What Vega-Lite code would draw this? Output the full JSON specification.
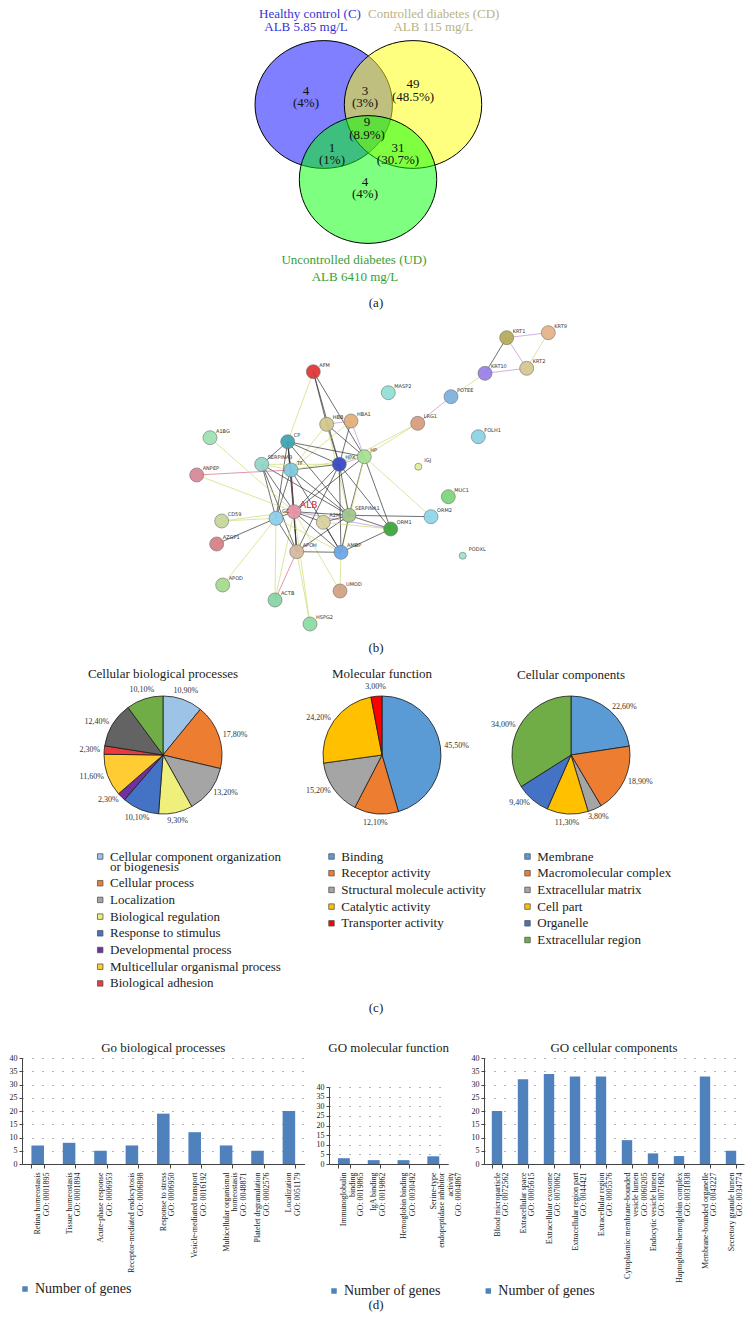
{
  "$schema": "https://vega.github.io/schema/vega-lite/v6.json",
  "padding": 0,
  "autosize": {"type": "pad"},
  "background": "white",
  "bounds": "flush",
  "spacing": 0,
  "config": {
    "view": {"stroke": null},
    "font": "Liberation Serif",
    "locale": {"number": {"decimal": ",", "thousands": ".", "grouping": [3], "currency": ["", " €"]}},
    "title": {"font": "Liberation Serif", "fontSize": 13, "fontWeight": "normal", "color": "#222"},
    "legend": {"padding": 0, "labelFont": "Liberation Serif", "labelColor": "#222"},
    "axis": {"labelFont": "Liberation Serif", "labelColor": "#222", "domainColor": "#444", "tickColor": "#444"},
    "style": {"guide-label": {"lineHeight": 10}}
  },
  "resolve": {
    "scale": {"x": "independent", "y": "independent", "color": "independent", "size": "independent", "theta": "independent"},
    "legend": {"color": "independent", "size": "independent"}
  },
  "datasets": {
    "vennSets": [
      {"set": "C", "u": -0.652, "v": 0},
      {"set": "CD", "u": 0.648, "v": 0},
      {"set": "UD", "u": -0.007, "v": -1.092}
    ],
    "vennTitles": [
      {"set": "C", "u": -0.852, "v": 1.317, "t": "Healthy control (C)"},
      {"set": "C", "u": -0.91, "v": 1.128, "t": "ALB 5.85 mg/L"},
      {"set": "CD", "u": 0.949, "v": 1.317, "t": "Controlled diabetes (CD)"},
      {"set": "CD", "u": 0.943, "v": 1.128, "t": "ALB 115 mg/L"},
      {"set": "UD", "u": -0.211, "v": -2.263, "t": "Uncontrolled diabetes (UD)"},
      {"set": "UD", "u": -0.197, "v": -2.511, "t": "ALB 6410 mg/L"}
    ],
    "vennCounts": [
      {"u": -0.91, "v": 0.197, "t": "4\n(4%)"},
      {"u": -0.051, "v": 0.197, "t": "3\n(3%)"},
      {"u": 0.648, "v": 0.298, "t": "49\n(48.5%)"},
      {"u": -0.022, "v": -0.262, "t": "9\n(8.9%)"},
      {"u": -0.531, "v": -0.633, "t": "1\n(1%)"},
      {"u": 0.429, "v": -0.633, "t": "31\n(30.7%)"},
      {"u": -0.051, "v": -1.128, "t": "4\n(4%)"}
    ],
    "nodes": [
      {"id": "KRT1", "x": 506.7, "y": 337.7},
      {"id": "KRT9", "x": 548.3, "y": 332.7},
      {"id": "KRT10", "x": 485.0, "y": 373.3},
      {"id": "KRT2", "x": 526.7, "y": 368.3},
      {"id": "POTEE", "x": 451.0, "y": 396.7},
      {"id": "MASP2", "x": 388.3, "y": 392.7},
      {"id": "AFM", "x": 313.3, "y": 371.7},
      {"id": "HBB", "x": 326.7, "y": 424.3},
      {"id": "HBA1", "x": 351.0, "y": 421.0},
      {"id": "LRG1", "x": 417.7, "y": 423.3},
      {"id": "FOLH1", "x": 478.3, "y": 436.7},
      {"id": "A1BG", "x": 210.0, "y": 437.7},
      {"id": "ANPEP", "x": 196.7, "y": 475.0},
      {"id": "CP", "x": 287.7, "y": 441.7},
      {"id": "SERPINA3", "x": 261.7, "y": 464.3},
      {"id": "TF", "x": 291.0, "y": 470.0},
      {"id": "HPX", "x": 339.3, "y": 464.3},
      {"id": "HP", "x": 364.3, "y": 456.7},
      {"id": "IGJ", "x": 418.3, "y": 466.7},
      {"id": "MUC1", "x": 448.3, "y": 496.7},
      {"id": "ORM2", "x": 431.0, "y": 516.7},
      {"id": "ORM1", "x": 390.7, "y": 529.0},
      {"id": "SERPINA1", "x": 349.0, "y": 515.3},
      {"id": "A2M", "x": 323.3, "y": 522.3},
      {"id": "ALB", "x": 294.0, "y": 511.7},
      {"id": "GC", "x": 276.0, "y": 518.3},
      {"id": "CD59", "x": 221.7, "y": 521.0},
      {"id": "AZGP1", "x": 216.7, "y": 544.0},
      {"id": "APOH", "x": 296.7, "y": 551.7},
      {"id": "AMBP", "x": 341.0, "y": 552.3},
      {"id": "APOD", "x": 222.7, "y": 585.0},
      {"id": "ACTB", "x": 275.0, "y": 600.0},
      {"id": "UMOD", "x": 340.0, "y": 591.0},
      {"id": "HSPG2", "x": 310.0, "y": 624.0},
      {"id": "PODXL", "x": 462.7, "y": 555.7}
    ],
    "edges": [
      {"s": "KRT1", "t": "KRT9", "k": "exp"},
      {"s": "KRT1", "t": "KRT10", "k": "black"},
      {"s": "KRT1", "t": "KRT2", "k": "exp"},
      {"s": "KRT10", "t": "KRT2", "k": "exp"},
      {"s": "KRT9", "t": "KRT2", "k": "text"},
      {"s": "KRT10", "t": "POTEE", "k": "text"},
      {"s": "POTEE", "t": "LRG1", "k": "exp"},
      {"s": "LRG1", "t": "HP", "k": "text"},
      {"s": "LRG1", "t": "HPX", "k": "text"},
      {"s": "AFM", "t": "CP", "k": "text"},
      {"s": "AFM", "t": "HBB", "k": "black"},
      {"s": "AFM", "t": "HP", "k": "black"},
      {"s": "AFM", "t": "HPX", "k": "black"},
      {"s": "HBB", "t": "HBA1", "k": "exp"},
      {"s": "HBB", "t": "HP", "k": "black"},
      {"s": "HBA1", "t": "HP", "k": "exp"},
      {"s": "HBB", "t": "HPX", "k": "black"},
      {"s": "HBA1", "t": "HPX", "k": "black"},
      {"s": "HBB", "t": "TF", "k": "text"},
      {"s": "HBA1", "t": "TF", "k": "text"},
      {"s": "HBB", "t": "SERPINA1", "k": "text"},
      {"s": "CP", "t": "TF", "k": "black"},
      {"s": "CP", "t": "HPX", "k": "black"},
      {"s": "CP", "t": "HP", "k": "black"},
      {"s": "CP", "t": "SERPINA3", "k": "black"},
      {"s": "CP", "t": "ALB", "k": "black"},
      {"s": "CP", "t": "SERPINA1", "k": "black"},
      {"s": "CP", "t": "GC", "k": "black"},
      {"s": "CP", "t": "APOH", "k": "black"},
      {"s": "SERPINA3", "t": "TF", "k": "text"},
      {"s": "SERPINA3", "t": "ALB", "k": "black"},
      {"s": "SERPINA3", "t": "GC", "k": "black"},
      {"s": "SERPINA3", "t": "APOH", "k": "black"},
      {"s": "SERPINA3", "t": "HPX", "k": "text"},
      {"s": "SERPINA3", "t": "SERPINA1", "k": "black"},
      {"s": "ANPEP", "t": "TF", "k": "db"},
      {"s": "ANPEP", "t": "ALB", "k": "text"},
      {"s": "TF", "t": "HPX", "k": "black"},
      {"s": "TF", "t": "HP", "k": "text"},
      {"s": "TF", "t": "ALB", "k": "db"},
      {"s": "TF", "t": "GC", "k": "black"},
      {"s": "TF", "t": "SERPINA1", "k": "black"},
      {"s": "TF", "t": "AMBP", "k": "black"},
      {"s": "TF", "t": "APOH", "k": "black"},
      {"s": "HPX", "t": "HP", "k": "exp"},
      {"s": "HPX", "t": "ALB", "k": "black"},
      {"s": "HPX", "t": "SERPINA1", "k": "black"},
      {"s": "HPX", "t": "AMBP", "k": "black"},
      {"s": "HPX", "t": "ORM1", "k": "black"},
      {"s": "HPX", "t": "APOH", "k": "black"},
      {"s": "HP", "t": "ALB", "k": "black"},
      {"s": "HP", "t": "SERPINA1", "k": "black"},
      {"s": "HP", "t": "ORM1", "k": "black"},
      {"s": "HP", "t": "ORM2", "k": "text"},
      {"s": "HP", "t": "AMBP", "k": "text"},
      {"s": "ALB", "t": "GC", "k": "black"},
      {"s": "ALB", "t": "A2M", "k": "black"},
      {"s": "ALB", "t": "SERPINA1", "k": "black"},
      {"s": "ALB", "t": "APOH", "k": "black"},
      {"s": "ALB", "t": "AMBP", "k": "black"},
      {"s": "ALB", "t": "ORM1", "k": "exp"},
      {"s": "ALB", "t": "CD59", "k": "text"},
      {"s": "ALB", "t": "A1BG", "k": "text"},
      {"s": "ALB", "t": "HSPG2", "k": "text"},
      {"s": "ALB", "t": "UMOD", "k": "text"},
      {"s": "ALB", "t": "ACTB", "k": "text"},
      {"s": "SERPINA1", "t": "ORM1", "k": "black"},
      {"s": "SERPINA1", "t": "ORM2", "k": "black"},
      {"s": "SERPINA1", "t": "AMBP", "k": "black"},
      {"s": "SERPINA1", "t": "APOH", "k": "black"},
      {"s": "SERPINA1", "t": "A2M", "k": "black"},
      {"s": "GC", "t": "CD59", "k": "text"},
      {"s": "GC", "t": "AZGP1", "k": "black"},
      {"s": "GC", "t": "APOD", "k": "text"},
      {"s": "GC", "t": "ACTB", "k": "text"},
      {"s": "GC", "t": "APOH", "k": "black"},
      {"s": "GC", "t": "AMBP", "k": "text"},
      {"s": "APOH", "t": "AMBP", "k": "black"},
      {"s": "APOH", "t": "ACTB", "k": "db"},
      {"s": "APOH", "t": "HSPG2", "k": "text"},
      {"s": "A2M", "t": "ORM1", "k": "text"},
      {"s": "A2M", "t": "AMBP", "k": "black"},
      {"s": "AMBP", "t": "ORM1", "k": "black"},
      {"s": "AMBP", "t": "UMOD", "k": "text"}
    ],
    "cbp": [
      {"category": "Cellular component organization or biogenesis", "share": 0.109, "ord": 1},
      {"category": "Cellular process", "share": 0.178, "ord": 2},
      {"category": "Localization", "share": 0.132, "ord": 3},
      {"category": "Biological regulation", "share": 0.093, "ord": 4},
      {"category": "Response to stimulus", "share": 0.101, "ord": 5},
      {"category": "Developmental process", "share": 0.023, "ord": 6},
      {"category": "Multicellular organismal process", "share": 0.116, "ord": 7},
      {"category": "Biological adhesion", "share": 0.023, "ord": 8},
      {"category": "Other 1", "share": 0.124, "ord": 9},
      {"category": "Other 2", "share": 0.101, "ord": 10}
    ],
    "mf": [
      {"category": "Binding", "share": 0.455, "ord": 1},
      {"category": "Receptor activity", "share": 0.121, "ord": 2},
      {"category": "Structural molecule activity", "share": 0.152, "ord": 3},
      {"category": "Catalytic activity", "share": 0.242, "ord": 4},
      {"category": "Transporter activity", "share": 0.03, "ord": 5}
    ],
    "cc": [
      {"category": "Membrane", "share": 0.226, "ord": 1},
      {"category": "Macromolecular complex", "share": 0.189, "ord": 2},
      {"category": "Extracellular matrix", "share": 0.038, "ord": 3},
      {"category": "Cell part", "share": 0.113, "ord": 4},
      {"category": "Organelle", "share": 0.094, "ord": 5},
      {"category": "Extracellular region", "share": 0.34, "ord": 6}
    ],
    "gobp": [
      {"term": "Retina homeostasis\nGO: 0001895", "genes": 7},
      {"term": "Tissue homeostasis\nGO: 0001894", "genes": 8},
      {"term": "Acute-phase response\nGO: 0006953", "genes": 5},
      {"term": "Receptor-mediated endocytosis\nGO: 0006898", "genes": 7},
      {"term": "Response to stress\nGO: 0006950", "genes": 19},
      {"term": "Vesicle-mediated transport\nGO: 0016192", "genes": 12},
      {"term": "Multicellular organismal\nhomeostasis\nGO: 0048871", "genes": 7},
      {"term": "Platelet degranulation\nGO: 0002576", "genes": 5},
      {"term": "Localization\nGO: 0051179", "genes": 20}
    ],
    "gomf": [
      {"term": "Immunoglobulin\nbinding\nGO: 0019865", "genes": 3},
      {"term": "IgA binding\nGO: 0019862", "genes": 2},
      {"term": "Hemoglobin binding\nGO: 0030492", "genes": 2},
      {"term": "Serine-type\nendopeptidase inhibitor\nactivity\nGO: 0004867", "genes": 4}
    ],
    "gocc": [
      {"term": "Blood microparticle\nGO: 0072562", "genes": 20},
      {"term": "Extracellular space\nGO: 0005615", "genes": 32},
      {"term": "Extracellular exosome\nGO: 0070062", "genes": 34},
      {"term": "Extracellular region part\nGO: 0044421", "genes": 33},
      {"term": "Extracellular region\nGO: 0005576", "genes": 33},
      {"term": "Cytoplasmic membrane-bounded\nvesicle lumen\nGO: 0060205", "genes": 9},
      {"term": "Endocytic vesicle lumen\nGO: 0071682", "genes": 4},
      {"term": "Haptoglobin-hemoglobin complex\nGO: 0031838", "genes": 3},
      {"term": "Membrane-bounded organelle\nGO: 0043227", "genes": 33},
      {"term": "Secretory granule lumen\nGO: 0034774", "genes": 5}
    ]
  },
  "vconcat": [
    {
      "width": 752, "height": 295,
      "resolve": {"scale": {"color": "independent"}},
      "layer": [
        {
          "data": {"name": "vennSets"},
          "mark": {"type": "point", "filled": true, "opacity": 1, "fillOpacity": 0.5, "stroke": "#000", "strokeWidth": 1, "strokeOpacity": 1, "size": 18879,
            "shape": "M1,0C1,0.5136,0.5523,0.93,0,0.93C-0.5523,0.93,-1,0.5136,-1,0C-1,-0.5136,-0.5523,-0.93,0,-0.93C0.5523,-0.93,1,-0.5136,1,0Z"},
          "encoding": {
            "x": {"field": "u", "type": "quantitative", "scale": {"domain": [-5.364, 5.582], "nice": false, "zero": false}, "axis": null},
            "y": {"field": "v", "type": "quantitative", "scale": {"domain": [-2.773, 1.521], "nice": false, "zero": false}, "axis": null},
            "color": {"field": "set", "type": "nominal", "scale": {"domain": ["C", "CD", "UD"], "range": ["#0000ff", "#ffff00", "#00ff00"]}, "legend": null}
          }
        },
        {
          "data": {"name": "vennTitles"},
          "mark": {"type": "text", "fontSize": 13, "font": "Liberation Serif"},
          "encoding": {
            "x": {"field": "u", "type": "quantitative"},
            "y": {"field": "v", "type": "quantitative"},
            "text": {"field": "t"},
            "color": {"field": "set", "type": "nominal", "scale": {"domain": ["C", "CD", "UD"], "range": ["#3434d6", "#b9b383", "#36a036"]}, "legend": null}
          }
        },
        {
          "data": {"name": "vennCounts"},
          "mark": {"type": "text", "fontSize": 13, "font": "Liberation Serif", "lineBreak": "\n", "lineHeight": 12.5, "color": "#111"},
          "encoding": {
            "x": {"field": "u", "type": "quantitative"},
            "y": {"field": "v", "type": "quantitative"},
            "text": {"field": "t"}
          }
        }
      ]
    },
    {
      "width": 752, "height": 16,
      "data": {"values": [{"cap": "(a)"}]},
      "mark": {"type": "text", "fontSize": 13, "font": "Liberation Serif", "color": "#222"},
      "encoding": {"text": {"field": "cap"}}
    },
    {
      "width": 752, "height": 329,
      "resolve": {"scale": {"color": "independent", "size": "independent"}},
      "layer": [
        {
          "data": {"name": "edges"},
          "transform": [
            {"lookup": "s", "from": {"data": {"name": "nodes"}, "key": "id", "fields": ["x", "y"]}, "as": ["sx", "sy"]},
            {"lookup": "t", "from": {"data": {"name": "nodes"}, "key": "id", "fields": ["x", "y"]}, "as": ["tx", "ty"]}
          ],
          "mark": {"type": "rule", "strokeWidth": 0.8, "opacity": 0.85},
          "encoding": {
            "x": {"field": "sx", "type": "quantitative", "scale": {"domain": [0, 752], "nice": false, "zero": false}, "axis": null},
            "y": {"field": "sy", "type": "quantitative", "scale": {"domain": [311, 640], "nice": false, "zero": false, "reverse": true}, "axis": null},
            "x2": {"field": "tx"},
            "y2": {"field": "ty"},
            "color": {"field": "k", "type": "nominal", "scale": {"domain": ["black", "text", "exp", "db"], "range": ["#2b2b2b", "#c9dc6e", "#b98bd6", "#d9607c"]}, "legend": null}
          }
        },
        {
          "data": {"name": "nodes"},
          "mark": {"type": "point", "filled": true, "opacity": 0.95, "stroke": "#6a6a6a", "strokeWidth": 0.6},
          "encoding": {
            "x": {"field": "x", "type": "quantitative"},
            "y": {"field": "y", "type": "quantitative"},
            "size": {"condition": {"test": "indexof(['IGJ','PODXL'], datum.id) >= 0", "value": 49}, "value": 196},
            "color": {"field": "id", "type": "nominal", "legend": null, "scale": {
              "domain": ["KRT1","KRT9","KRT10","KRT2","POTEE","MASP2","AFM","HBB","HBA1","LRG1","FOLH1","A1BG","ANPEP","CP","SERPINA3","TF","HPX","HP","IGJ","MUC1","ORM2","ORM1","SERPINA1","A2M","ALB","GC","CD59","AZGP1","APOH","AMBP","APOD","ACTB","UMOD","HSPG2","PODXL"],
              "range": ["#b5ad5a","#e6b48c","#9a82e6","#d6c894","#7fb2e0","#92e0d6","#e0383a","#d2c88e","#e2b07a","#d99e7e","#8fd2e6","#9fe2b4","#d98a98","#3fa6b4","#94d6c8","#82cade","#3a4cc8","#a6e294","#def29e","#7ed67e","#8ed6ea","#3ea83e","#a2c88e","#dcd2a0","#e894a8","#8ed0ec","#c8d89e","#d6828c","#d6baa0","#6ea8e6","#a6dc8e","#86d6a6","#d4a282","#8edca6","#a2e2d4"]
            }}
          }
        },
        {
          "data": {"name": "nodes"},
          "mark": {"type": "text", "align": "left", "dx": 6, "dy": -7, "font": "DejaVu Sans"},
          "encoding": {
            "x": {"field": "x", "type": "quantitative"},
            "y": {"field": "y", "type": "quantitative"},
            "text": {"field": "id"},
            "size": {"condition": {"test": "datum.id === 'ALB'", "value": 9}, "value": 5},
            "color": {"condition": {"test": "datum.id === 'ALB'", "value": "#e0202a"}, "value": "#333"}
          }
        }
      ]
    },
    {
      "width": 752, "height": 16,
      "data": {"values": [{"cap": "(b)"}]},
      "mark": {"type": "text", "fontSize": 13, "font": "Liberation Serif", "color": "#222"},
      "encoding": {"text": {"field": "cap"}}
    },
    {"width": 752, "height": 34, "data": {"values": []}, "mark": "text"},
    {
      "bounds": "flush",
      "spacing": 0,
      "resolve": {"scale": {"color": "independent", "theta": "independent"}, "legend": {"color": "independent"}},
      "hconcat": [
        {"width": 88, "height": 130, "data": {"values": []}, "mark": "text"},
        {
          "width": 150, "height": 130,
          "data": {"name": "cbp"},
          "title": {"text": "Cellular biological processes", "offset": 5},
          "encoding": {
            "theta": {"field": "share", "type": "quantitative", "stack": true},
            "order": {"field": "ord", "type": "quantitative"}
          },
          "layer": [
            {
              "mark": {"type": "arc", "outerRadius": 59, "stroke": "#1a1a1a", "strokeWidth": 0.8},
              "encoding": {
                "color": {"field": "category", "type": "nominal",
                  "scale": {"domain": ["Cellular component organization or biogenesis", "Cellular process", "Localization", "Biological regulation", "Response to stimulus", "Developmental process", "Multicellular organismal process", "Biological adhesion", "Other 1", "Other 2"],
                    "range": ["#9dc3e6", "#ed7d31", "#a5a5a5", "#eff07c", "#4472c4", "#7030a0", "#ffcc33", "#e83c3c", "#636363", "#70ad47"]},
                  "legend": {"orient": "none", "legendX": 5.7, "legendY": 160, "title": null,
                    "values": ["Cellular component organization or biogenesis", "Cellular process", "Localization", "Biological regulation", "Response to stimulus", "Developmental process", "Multicellular organismal process", "Biological adhesion"],
                    "symbolType": "square", "symbolSize": 30, "symbolStrokeColor": "#555", "symbolStrokeWidth": 0.8,
                    "labelFontSize": 13, "labelLimit": 400, "labelOffset": 3.3, "rowPadding": 2.7,
                    "labelExpr": "datum.label === 'Cellular component organization or biogenesis' ? ['Cellular component organization', 'or biogenesis'] : datum.label"}
                }
              }
            },
            {
              "mark": {"type": "text", "radius": 63, "align": "left", "fontSize": 8, "color": "#333", "font": "Liberation Serif"},
              "encoding": {"text": {"condition": {"test": "(datum.share_start + datum.share_end) / 2 >= 0.07 && (datum.share_start + datum.share_end) / 2 < 0.43", "field": "share", "type": "quantitative", "format": ".2%"}, "value": ""}}
            },
            {
              "mark": {"type": "text", "radius": 63, "align": "right", "fontSize": 8, "color": "#333", "font": "Liberation Serif"},
              "encoding": {"text": {"condition": {"test": "(datum.share_start + datum.share_end) / 2 > 0.57 && (datum.share_start + datum.share_end) / 2 <= 0.93", "field": "share", "type": "quantitative", "format": ".2%"}, "value": ""}}
            },
            {
              "mark": {"type": "text", "radius": 68, "align": "center", "fontSize": 8, "color": "#333", "font": "Liberation Serif"},
              "encoding": {"text": {"condition": {"test": "(datum.share_start + datum.share_end) / 2 < 0.07 || (datum.share_start + datum.share_end) / 2 > 0.93 || ((datum.share_start + datum.share_end) / 2 >= 0.43 && (datum.share_start + datum.share_end) / 2 <= 0.57)", "field": "share", "type": "quantitative", "format": ".2%"}, "value": ""}}
            }
          ]
        },
        {"width": 69, "height": 130, "data": {"values": []}, "mark": "text"},
        {
          "width": 150, "height": 130,
          "data": {"name": "mf"},
          "title": {"text": "Molecular function", "offset": 2.3},
          "encoding": {
            "theta": {"field": "share", "type": "quantitative", "stack": true},
            "order": {"field": "ord", "type": "quantitative"}
          },
          "layer": [
            {
              "mark": {"type": "arc", "outerRadius": 59, "stroke": "#1a1a1a", "strokeWidth": 0.8},
              "encoding": {
                "color": {"field": "category", "type": "nominal",
                  "scale": {"domain": ["Binding", "Receptor activity", "Structural molecule activity", "Catalytic activity", "Transporter activity"],
                    "range": ["#5b9bd5", "#ed7d31", "#a5a5a5", "#ffc000", "#ff0000"]},
                  "legend": {"orient": "none", "legendX": 18, "legendY": 160, "title": null,
                    "symbolType": "square", "symbolSize": 30, "symbolStrokeColor": "#555", "symbolStrokeWidth": 0.8,
                    "labelFontSize": 13, "labelLimit": 400, "labelOffset": 3.3, "rowPadding": 2.7}
                }
              }
            },
            {
              "mark": {"type": "text", "radius": 63, "align": "left", "fontSize": 8, "color": "#333", "font": "Liberation Serif"},
              "encoding": {"text": {"condition": {"test": "(datum.share_start + datum.share_end) / 2 >= 0.07 && (datum.share_start + datum.share_end) / 2 < 0.43", "field": "share", "type": "quantitative", "format": ".2%"}, "value": ""}}
            },
            {
              "mark": {"type": "text", "radius": 63, "align": "right", "fontSize": 8, "color": "#333", "font": "Liberation Serif"},
              "encoding": {"text": {"condition": {"test": "(datum.share_start + datum.share_end) / 2 > 0.57 && (datum.share_start + datum.share_end) / 2 <= 0.93", "field": "share", "type": "quantitative", "format": ".2%"}, "value": ""}}
            },
            {
              "mark": {"type": "text", "radius": 68, "align": "center", "fontSize": 8, "color": "#333", "font": "Liberation Serif"},
              "encoding": {"text": {"condition": {"test": "(datum.share_start + datum.share_end) / 2 < 0.07 || (datum.share_start + datum.share_end) / 2 > 0.93 || ((datum.share_start + datum.share_end) / 2 >= 0.43 && (datum.share_start + datum.share_end) / 2 <= 0.57)", "field": "share", "type": "quantitative", "format": ".2%"}, "value": ""}}
            }
          ]
        },
        {"width": 39, "height": 130, "data": {"values": []}, "mark": "text"},
        {
          "width": 150, "height": 130,
          "data": {"name": "cc"},
          "title": {"text": "Cellular components", "offset": 8},
          "encoding": {
            "theta": {"field": "share", "type": "quantitative", "stack": true},
            "order": {"field": "ord", "type": "quantitative"}
          },
          "layer": [
            {
              "mark": {"type": "arc", "outerRadius": 59, "stroke": "#1a1a1a", "strokeWidth": 0.8},
              "encoding": {
                "color": {"field": "category", "type": "nominal",
                  "scale": {"domain": ["Membrane", "Macromolecular complex", "Extracellular matrix", "Cell part", "Organelle", "Extracellular region"],
                    "range": ["#5b9bd5", "#ed7d31", "#a5a5a5", "#ffc000", "#4472c4", "#70ad47"]},
                  "legend": {"orient": "none", "legendX": 25, "legendY": 160, "title": null,
                    "symbolType": "square", "symbolSize": 30, "symbolStrokeColor": "#555", "symbolStrokeWidth": 0.8,
                    "labelFontSize": 13, "labelLimit": 400, "labelOffset": 3.3, "rowPadding": 2.7}
                }
              }
            },
            {
              "mark": {"type": "text", "radius": 63, "align": "left", "fontSize": 8, "color": "#333", "font": "Liberation Serif"},
              "encoding": {"text": {"condition": {"test": "(datum.share_start + datum.share_end) / 2 >= 0.07 && (datum.share_start + datum.share_end) / 2 < 0.43", "field": "share", "type": "quantitative", "format": ".2%"}, "value": ""}}
            },
            {
              "mark": {"type": "text", "radius": 63, "align": "right", "fontSize": 8, "color": "#333", "font": "Liberation Serif"},
              "encoding": {"text": {"condition": {"test": "(datum.share_start + datum.share_end) / 2 > 0.57 && (datum.share_start + datum.share_end) / 2 <= 0.93", "field": "share", "type": "quantitative", "format": ".2%"}, "value": ""}}
            },
            {
              "mark": {"type": "text", "radius": 68, "align": "center", "fontSize": 8, "color": "#333", "font": "Liberation Serif"},
              "encoding": {"text": {"condition": {"test": "(datum.share_start + datum.share_end) / 2 < 0.07 || (datum.share_start + datum.share_end) / 2 > 0.93 || ((datum.share_start + datum.share_end) / 2 >= 0.43 && (datum.share_start + datum.share_end) / 2 <= 0.57)", "field": "share", "type": "quantitative", "format": ".2%"}, "value": ""}}
            }
          ]
        }
      ]
    },
    {"width": 752, "height": 267, "data": {"values": []}, "mark": "text"},
    {
      "width": 752, "height": 101,
      "data": {"values": [{"cap": "(c)"}]},
      "mark": {"type": "text", "fontSize": 13, "font": "Liberation Serif", "color": "#222"},
      "encoding": {"text": {"field": "cap"}}
    },
    {
      "bounds": "flush",
      "spacing": 0,
      "resolve": {"scale": {"x": "independent", "y": "independent", "color": "independent"}, "legend": {"color": "independent"}, "axis": {"x": "independent", "y": "independent"}},
      "hconcat": [
        {"width": 22, "height": 106, "data": {"values": []}, "mark": "text"},
        {
          "width": 282.6, "height": 106,
          "data": {"name": "gobp"},
          "title": {"text": "Go biological processes", "offset": -1},
          "mark": {"type": "bar"},
          "encoding": {
            "x": {"field": "term", "type": "nominal", "sort": null, "scale": {"paddingInner": 0.6, "paddingOuter": 0.3},
              "axis": {"title": null, "labelAngle": -90, "labelExpr": "split(datum.label, '\\n')", "labelFontSize": 8, "labelLineHeight": 8.5, "tickBand": "extent", "tickSize": 4, "labelPadding": 4, "labelLimit": 300, "labelOverlap": false}},
            "y": {"field": "genes", "type": "quantitative", "scale": {"domain": [0, 40], "nice": false},
              "axis": {"title": null, "values": [0, 5, 10, 15, 20, 25, 30, 35, 40], "labelFontSize": 8, "tickSize": 3, "labelPadding": 2, "grid": true, "gridDash": [1, 9], "gridColor": "#666", "gridWidth": 1}},
            "color": {"datum": "Number of genes", "type": "nominal", "scale": {"range": ["#4f81bd"]},
              "legend": {"orient": "none", "legendX": -4, "legendY": 224, "title": null, "symbolType": "square", "symbolSize": 30, "labelFontSize": 14, "labelOffset": 3}}
          }
        },
        {"width": 23.1, "height": 106, "data": {"values": []}, "mark": "text"},
        {
          "bounds": "flush",
          "spacing": 0,
          "vconcat": [
            {"width": 119.2, "height": 29, "data": {"values": []}, "mark": "text"},
            {
              "width": 119.2, "height": 77,
              "data": {"name": "gomf"},
              "title": {"text": "GO molecular function", "offset": 28},
              "mark": {"type": "bar"},
              "encoding": {
                "x": {"field": "term", "type": "nominal", "sort": null, "scale": {"paddingInner": 0.6, "paddingOuter": 0.3},
                  "axis": {"title": null, "labelAngle": -90, "labelExpr": "split(datum.label, '\\n')", "labelFontSize": 8, "labelLineHeight": 8.5, "tickBand": "extent", "tickSize": 4, "labelPadding": 4, "labelLimit": 300, "labelOverlap": false}},
                "y": {"field": "genes", "type": "quantitative", "scale": {"domain": [0, 40], "nice": false},
                  "axis": {"title": null, "values": [0, 5, 10, 15, 20, 25, 30, 35, 40], "labelFontSize": 8, "tickSize": 3, "labelPadding": 2, "grid": true, "gridDash": [1, 9], "gridColor": "#666", "gridWidth": 1}},
                "color": {"datum": "Number of genes", "type": "nominal", "scale": {"range": ["#4f81bd"]},
                  "legend": {"orient": "none", "legendX": -2, "legendY": 226, "title": null, "symbolType": "square", "symbolSize": 30, "labelFontSize": 14, "labelOffset": 3}}
              }
            }
          ]
        },
        {"width": 155, "height": 106, "data": {"values": []}, "mark": "text"},
        {
          "width": 260, "height": 106,
          "data": {"name": "gocc"},
          "title": {"text": "GO cellular components", "offset": -1},
          "mark": {"type": "bar"},
          "encoding": {
            "x": {"field": "term", "type": "nominal", "sort": null, "scale": {"paddingInner": 0.6, "paddingOuter": 0.3},
              "axis": {"title": null, "labelAngle": -90, "labelExpr": "split(datum.label, '\\n')", "labelFontSize": 8, "labelLineHeight": 8.5, "tickBand": "extent", "tickSize": 4, "labelPadding": 4, "labelLimit": 300, "labelOverlap": false}},
            "y": {"field": "genes", "type": "quantitative", "scale": {"domain": [0, 40], "nice": false},
              "axis": {"title": null, "values": [0, 5, 10, 15, 20, 25, 30, 35, 40], "labelFontSize": 8, "tickSize": 3, "labelPadding": 2, "grid": true, "gridDash": [1, 9], "gridColor": "#666", "gridWidth": 1}},
            "color": {"datum": "Number of genes", "type": "nominal", "scale": {"range": ["#4f81bd"]},
              "legend": {"orient": "none", "legendX": -2.7, "legendY": 226, "title": null, "symbolType": "square", "symbolSize": 30, "labelFontSize": 14, "labelOffset": 3}}
          }
        }
      ]
    },
    {"width": 752, "height": 232, "data": {"values": []}, "mark": "text"},
    {
      "width": 752, "height": 30,
      "data": {"values": [{"cap": "(d)"}]},
      "mark": {"type": "text", "fontSize": 13, "font": "Liberation Serif", "color": "#222"},
      "encoding": {"text": {"field": "cap"}}
    }
  ]
}
